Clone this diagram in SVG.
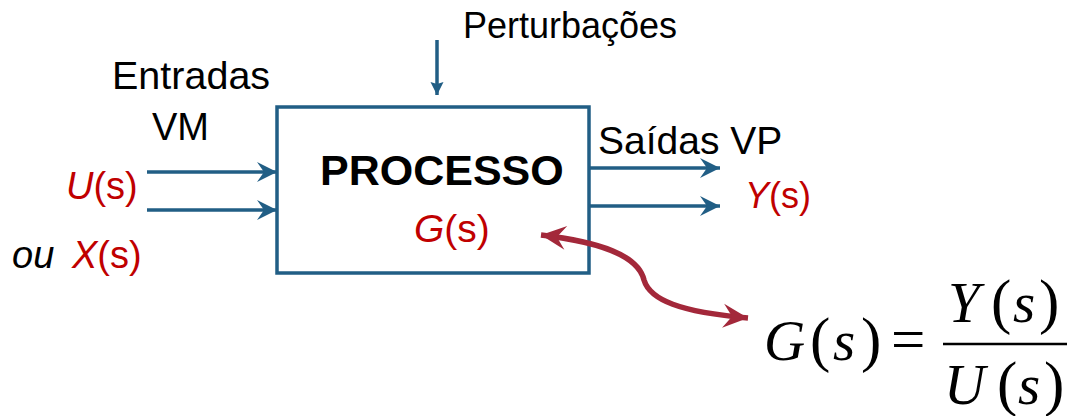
<svg xmlns="http://www.w3.org/2000/svg" width="1071" height="416" viewBox="0 0 1071 416">
<defs>
<style>
.t{font-family:"Liberation Sans",Arial,sans-serif;fill:#000}
.r{fill:#C00000}
.m{font-family:"Liberation Serif","Times New Roman",serif;font-style:italic;font-size:57px;fill:#000}
.mp{font-family:"Liberation Serif","Times New Roman",serif;font-style:normal;font-size:61px;fill:#000}
.blue{stroke:#215E85;stroke-width:3.5;fill:none}
.red{stroke:#A3283A;stroke-width:5.5;fill:none}
</style>
<marker id="ab" markerUnits="userSpaceOnUse" viewBox="-22 -12 24 24" refX="0" refY="0" markerWidth="24" markerHeight="24" orient="auto">
<path d="M0,0 L-20,-10 L-13,0 L-20,10 Z" fill="#215E85"/>
</marker>
<marker id="abs" markerUnits="userSpaceOnUse" viewBox="-16 -9 18 18" refX="0" refY="0" markerWidth="18" markerHeight="18" orient="auto">
<path d="M0,0 L-13,-6.5 L-11,0 L-13,6.5 Z" fill="#215E85"/>
</marker>
<marker id="ar" markerUnits="userSpaceOnUse" viewBox="-28 -14 30 28" refX="0" refY="0" markerWidth="30" markerHeight="28" orient="auto-start-reverse">
<path d="M0,0 L-25,-12 L-16,0 L-25,12 Z" fill="#A3283A"/>
</marker>
</defs>
<g id="process">
<rect x="277" y="107" width="312" height="166" class="blue"/>
<text class="t" x="320" y="185" font-size="43" font-weight="bold">PROCESSO</text>
<text class="t r" x="414" y="242" font-size="39"><tspan font-style="italic">G</tspan>(s)</text>
</g>
<g id="labels">
<text class="t" x="463" y="38" font-size="36">Perturbações</text>
<text class="t" x="112" y="89" font-size="39.5">Entradas</text>
<text class="t" x="152" y="140" font-size="38">VM</text>
<text class="t r" x="66" y="199" font-size="38"><tspan font-style="italic">U</tspan>(s)</text>
<text class="t" x="12" y="268" font-size="38"><tspan font-style="italic">ou</tspan></text>
<text class="t r" x="72" y="268" font-size="38"><tspan font-style="italic">X</tspan>(s)</text>
<text class="t" x="598" y="154" font-size="39">Saídas VP</text>
<text class="t r" x="745" y="208" font-size="36"><tspan font-style="italic">Y</tspan>(s)</text>
</g>
<g id="connectors">
<path class="blue" d="M437,40 V95" marker-end="url(#abs)"/>
<path class="blue" d="M147,172 H277" marker-end="url(#ab)"/>
<path class="blue" d="M147,210 H277" marker-end="url(#ab)"/>
<path class="blue" d="M590,168 H720" marker-end="url(#ab)"/>
<path class="blue" d="M590,206 H720" marker-end="url(#ab)"/>
<path class="red" d="M541,235 C600,242 638,255 644,280 C650,300 680,312 748,318" marker-start="url(#ar)" marker-end="url(#ar)"/>
</g>
<g id="formula">
<text class="m" x="764" y="360">G</text>
<text class="mp" x="810" y="360">(</text>
<text class="m" x="833" y="360">s</text>
<text class="mp" x="861" y="360">)</text>
<text class="mp" x="891" y="360">=</text>
<line x1="943" y1="344" x2="1067" y2="344" stroke="#000" stroke-width="2.5"/>
<text class="m" x="948" y="322">Y</text>
<text class="mp" x="991" y="322">(</text>
<text class="m" x="1013" y="322">s</text>
<text class="mp" x="1039" y="322">)</text>
<text class="m" x="944" y="404">U</text>
<text class="mp" x="997" y="404">(</text>
<text class="m" x="1018" y="404">s</text>
<text class="mp" x="1044" y="404">)</text>
</g>
</svg>
